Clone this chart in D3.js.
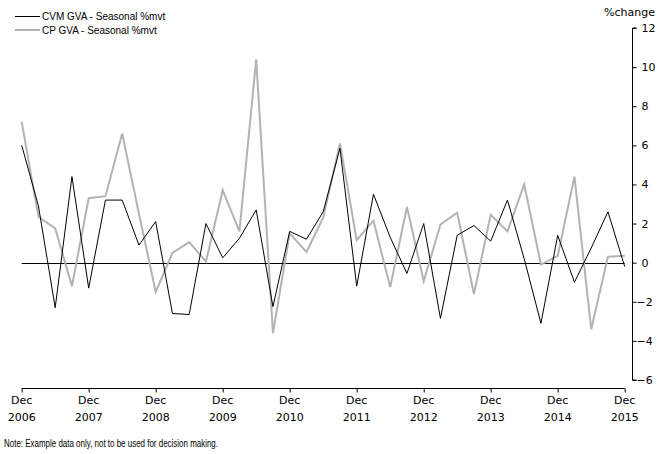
<!DOCTYPE html>
<html>
<head>
<meta charset="utf-8">
<script src="https://cdn.jsdelivr.net/npm/d3@7"></script>
<style>
  html, body { margin: 0; padding: 0; background: #fff; }
  svg { display: block; }
  text { fill: #000; }
</style>
</head>
<body>
<svg id="chart" width="661" height="454"></svg>
<script>
// ---- data ----
const quarterIndex = d3.range(37); // Dec 2006 .. Dec 2015, quarterly
const yearTickLabels = ["2006","2007","2008","2009","2010","2011","2012","2013","2014","2015"];
const monthTickLabel = "Dec";
const yTickValues = [-6,-4,-2,0,2,4,6,8,10,12];
const seriesNames = ["CVM GVA - Seasonal %mvt", "CP GVA - Seasonal %mvt"];
const cvmValues = [6.0, 2.9, -2.3, 4.4, -1.3, 3.2, 3.2, 0.9, 2.1, -2.6,
                   -2.65, 2.0, 0.25, 1.25, 2.7, -2.25, 1.6, 1.2, 2.6, 5.85,
                   -1.2, 3.5, 1.3, -0.55, 2.0, -2.85, 1.4, 1.9, 1.1, 3.2,
                   0.2, -3.1, 1.4, -1.0, 0.75, 2.6, -0.2];
const cpValues  = [7.2, 2.35, 1.75, -1.2, 3.3, 3.4, 6.6, 2.5, -1.5, 0.5,
                   1.05, 0.05, 3.7, 1.6, 10.4, -3.6, 1.5, 0.55, 2.3, 6.1,
                   1.15, 2.15, -1.25, 2.85, -0.95, 1.95, 2.55, -1.6, 2.45, 1.6,
                   4.0, -0.1, 0.35, 4.4, -3.4, 0.3, 0.35];
const noteText = "Note: Example data only, not to be used for decision making.";
const yUnitLabel = "%change";

// ---- chart ----
const svg = d3.select("#chart");
const x = d3.scaleLinear().domain([0, 36]).range([21.7, 624.7]);
const y = d3.scaleLinear().domain([-6, 12]).range([380, 28]);

// zero line
svg.append("line")
  .attr("x1", x(0)).attr("x2", x(36))
  .attr("y1", Math.round(y(0)) + 0.5).attr("y2", Math.round(y(0)) + 0.5)
  .attr("stroke", "#000").attr("stroke-width", 1);

// lines
const line = d3.line().x((d, i) => x(i)).y(d => y(d));
svg.append("path").datum(cpValues)
  .attr("d", line).attr("fill", "none")
  .attr("stroke", "#b3b3b3").attr("stroke-width", 2)
  .attr("stroke-linejoin", "miter");
svg.append("path").datum(cvmValues)
  .attr("d", line).attr("fill", "none")
  .attr("stroke", "#000").attr("stroke-width", 1);

// x axis
const xTicks = d3.range(0, 37, 4);
const xAxis = d3.axisBottom(x).tickValues(xTicks).tickSize(4).tickFormat(() => "");
const gx = svg.append("g").attr("transform", "translate(0,388.5)").call(xAxis);
gx.select(".domain").attr("d", `M${x(0)},0H${x(36)}`).attr("stroke", "#000");
gx.selectAll(".tick line").attr("stroke", "#000");
const fontAxis = "DejaVu Sans, Verdana, sans-serif";
xTicks.forEach((t, k) => {
  svg.append("text").attr("x", x(t)).attr("y", 404)
    .attr("text-anchor", "middle").attr("font-family", fontAxis).attr("font-size", 11)
    .text(monthTickLabel);
  svg.append("text").attr("x", x(t)).attr("y", 421)
    .attr("text-anchor", "middle").attr("font-family", fontAxis).attr("font-size", 11)
    .text(yearTickLabels[k]);
});

// y axis (right)
const yAxis = d3.axisRight(y).tickValues(yTickValues).tickSize(4).tickPadding(5)
  .tickFormat(d3.format("d"));
const gy = svg.append("g").attr("transform", "translate(632.5,0)").call(yAxis);
gy.select(".domain").attr("d", `M4,${y(12)}H0V${y(-6)}H4`).attr("stroke", "#000").attr("fill", "none");
gy.selectAll(".tick line").attr("stroke", "#000");
gy.selectAll(".tick text")
  .attr("font-family", fontAxis).attr("font-size", 11).attr("fill", "#000")
  .attr("x", d => d < 0 ? 4 : 9)
  .attr("dy", "0.32em");

// unit label
svg.append("text").attr("x", 655).attr("y", 15.5).attr("text-anchor", "end")
  .attr("font-family", fontAxis).attr("font-size", 11).text(yUnitLabel);

// legend
const legendFont = "Liberation Sans, Arial, sans-serif";
const legendColors = ["#000", "#b3b3b3"];
const legendWidths = [1, 2];
seriesNames.forEach((name, i) => {
  const ly = 16 + i * 14;
  svg.append("line").attr("x1", 15).attr("x2", 40)
    .attr("y1", ly + (i === 0 ? 0.5 : 0)).attr("y2", ly + (i === 0 ? 0.5 : 0))
    .attr("stroke", legendColors[i]).attr("stroke-width", legendWidths[i]);
  svg.append("text").attr("x", 42).attr("y", ly + 3.5)
    .attr("font-family", legendFont).attr("font-size", 10).text(name);
});

// note
svg.append("text").attr("x", 4).attr("y", 447)
  .attr("font-family", "Liberation Sans Narrow, Liberation Sans, Arial, sans-serif")
  .attr("font-size", 10)
  .attr("textLength", 214).attr("lengthAdjust", "spacingAndGlyphs")
  .text(noteText);
</script>
</body>
</html>
